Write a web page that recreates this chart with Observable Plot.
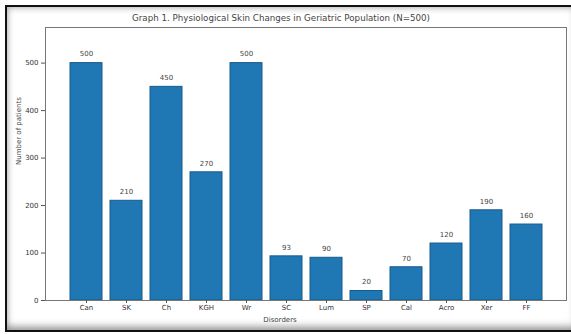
<!DOCTYPE html>
<html>
<head>
<meta charset="utf-8">
<script src="https://cdn.jsdelivr.net/npm/d3@7"></script>
<script src="https://cdn.jsdelivr.net/npm/@observablehq/plot@0.6"></script>
<style>
  html, body { margin: 0; padding: 0; background: #fff; }
  #fig { position: relative; width: 571px; height: 334px; overflow: hidden; background: #fff; font-family: "DejaVu Sans", sans-serif; }
  #border {
    position: absolute; left: 5px; top: 5px; width: 575px; height: 327px;
    box-sizing: border-box; border: 2.5px solid #111;
    box-shadow: inset 0 0 6px 1px rgba(0,0,0,0.30), inset -4px -5px 7px rgba(0,0,0,0.22);
  }
  #title {
    position: absolute; top: 13px; left: 100px; width: 362px; text-align: center;
    font-size: 8.7px; color: #444; white-space: nowrap;
  }
  #chart { position: absolute; left: 0; top: 0; }
</style>
</head>
<body>
<div id="fig">
  <div id="border"></div>
  <div id="title">Graph 1. Physiological Skin Changes in Geriatric Population (N=500)</div>
  <div id="chart"></div>
</div>
<script>
// Skin disorders recorded across the geriatric cohort
const categories = ["Can", "SK", "Ch", "KGH", "Wr", "SC", "Lum", "SP", "Cal", "Acro", "Xer", "FF"];
const patients = [500, 210, 450, 270, 500, 93, 90, 20, 70, 120, 190, 160];
const yTicks = [0, 100, 200, 300, 400, 500];

const rows = categories.map((c, i) => ({ disorder: c, count: patients[i] }));

const chart = Plot.plot({
  width: 571,
  height: 334,
  marginTop: 27,
  marginBottom: 34,
  marginLeft: 45,
  marginRight: 5,
  style: { fontFamily: "DejaVu Sans, sans-serif", fontSize: "7px", background: "transparent", color: "#333", overflow: "visible" },
  x: { domain: categories, paddingInner: 0.2, paddingOuter: 0.6, label: null },
  y: { domain: [0, 575], label: null },
  marks: [
    Plot.barY(rows, { x: "disorder", y: "count", fill: "#1f77b4", stroke: "#195a8c", strokeWidth: 1 }),
    Plot.text(rows, { x: "disorder", y: "count", text: d => String(d.count), dy: -9, fontSize: 7, fill: "#444" }),
    Plot.frame({ stroke: "#777", strokeWidth: 1 }),
    Plot.axisX({ tickSize: 3, tickPadding: 2, label: null, stroke: "#555" }),
    Plot.axisY({ ticks: yTicks, tickSize: 4, tickPadding: 3, label: null, stroke: "#555" }),
    Plot.text(["Disorders"], { frameAnchor: "bottom", dx: -26, dy: 21, fontSize: 7, fill: "#444" }),
    Plot.text(["Number of patients"], { frameAnchor: "left", dx: -27, dy: 1, rotate: -90, fontSize: 7, fill: "#444" })
  ]
});

document.getElementById("chart").appendChild(chart);
</script>
</body>
</html>
